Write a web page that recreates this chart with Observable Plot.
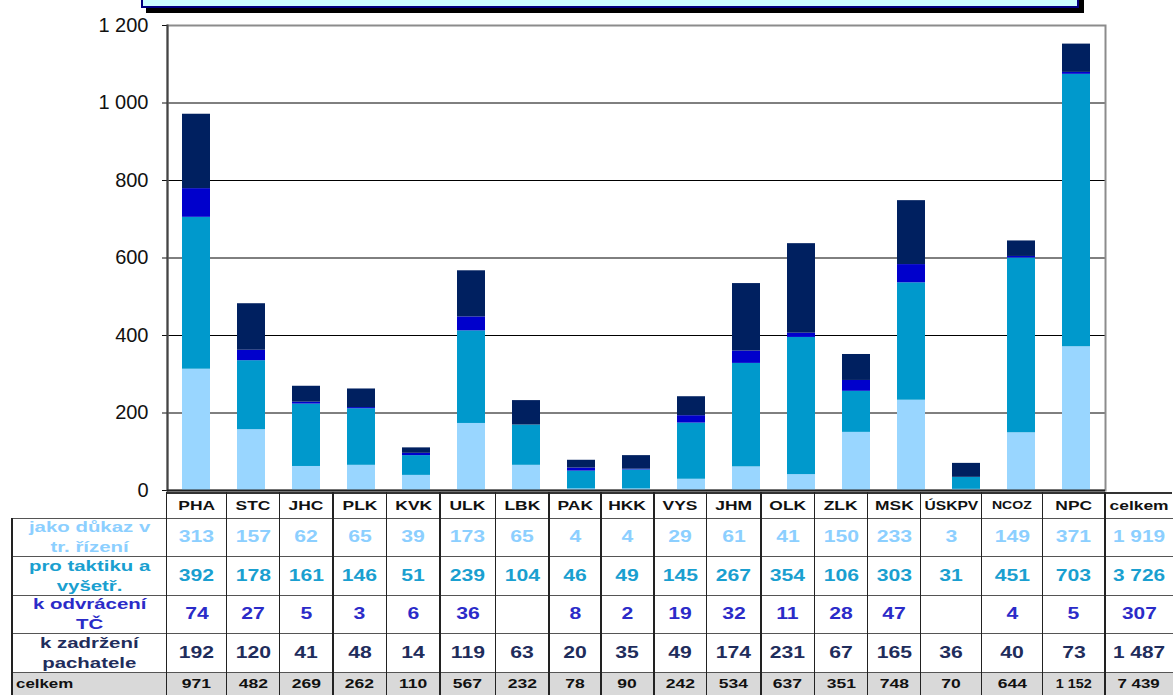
<!DOCTYPE html>
<html><head><meta charset="utf-8">
<script src="https://cdn.jsdelivr.net/npm/d3@7"></script>
<script src="https://cdn.jsdelivr.net/npm/@observablehq/plot@0.6"></script>
<style>
body{margin:0;background:#fff;font-family:"Liberation Sans",Arial,sans-serif;}
#wrap{position:relative;width:1173px;height:695px;overflow:hidden;background:#fff;}
#titlebox{position:absolute;left:141px;top:-40px;width:934px;height:44px;background:#CCFFFF;border:2px solid #000080;box-shadow:5px 5px 0 #000;}
#chart{position:absolute;left:0;top:0;}
.cell{position:absolute;box-sizing:border-box;display:flex;align-items:center;justify-content:center;font-weight:bold;white-space:nowrap;text-align:center;}
.sx{display:inline-block;}
.ln{position:absolute;}
</style></head>
<body>
<div id="wrap"><div id="titlebox"></div><div id="chart"></div></div>
<script>
// ---- data ----
const categories = ["PHA","STC","JHC","PLK","KVK","ULK","LBK","PAK","HKK","VYS","JHM","OLK","ZLK","MSK","ÚSKPV","NCOZ","NPC"];
const seriesNames = ["jako důkaz v tr. řízení","pro taktiku a vyšetř.","k odvrácení TČ","k zadržení pachatele"];
const seriesLabelLines = [["jako důkaz v","tr. řízení"],["pro taktiku a","vyšetř."],["k odvrácení","TČ"],["k zadržení","pachatele"]];
const dukaz     = [313,157,62,65,39,173,65,4,4,29,61,41,150,233,3,149,371];
const taktika   = [392,178,161,146,51,239,104,46,49,145,267,354,106,303,31,451,703];
const odvraceni = [74,27,5,3,6,36,null,8,2,19,32,11,28,47,null,4,5];
const zadrzeni  = [192,120,41,48,14,119,63,20,35,49,174,231,67,165,36,40,73];
const celkem    = [971,482,269,262,110,567,232,78,90,242,534,637,351,748,70,644,1152];
const totalLabel = "celkem";
const seriesTotals = [1919,3726,307,1487];
const grandTotal = 7439;
const yTicks = [0,200,400,600,800,1000,1200];

// ---- styles ----
const barColors  = ["#99D6FF","#0099CC","#0000CC","#002060"];
const textColors = ["#8CCFFF","#1A9FD0","#2B2BC8","#1F2D5C"];
const colEdges = [166.7,226.7,279.4,333,386.5,440.1,495.6,549.2,600.8,653.8,706.7,760.8,814.5,867.4,920.7,981.7,1042.7,1105,1173];
const rowEdges = [492,518,556,595,633,672,695];
const labelLeft = 11.7;

const seriesValues = [dukaz,taktika,odvraceni,zadrzeni];
const long = [];
seriesValues.forEach((arr,s)=>arr.forEach((v,i)=>{ if(v!=null) long.push({cat:categories[i],series:seriesNames[s],value:v}); }));

const fmt = v => d3.format(",")(v).replace(/,/g," ");

const chart = Plot.plot({
  width:1173, height:500, marginLeft:167, marginRight:68, marginTop:25, marginBottom:10,
  style:{fontFamily:"'Liberation Sans', Arial, sans-serif", fontSize:"20px", background:"transparent", overflow:"visible"},
  x:{domain:categories, paddingInner:0.5, paddingOuter:0.25, axis:null},
  y:{domain:[0,1200], axis:null},
  color:{domain:seriesNames, range:barColors},
  marks:[
    Plot.ruleY(yTicks.filter(t=>t>0 && t<1200), {stroke:"#000", strokeWidth:1}),
    Plot.frame({stroke:"#8c8c8c", strokeWidth:2}),
    Plot.barY(long, {x:"cat", y:"value", fill:"series"}),
    Plot.axisY({ticks:yTicks, tickFormat:fmt, tickSize:5, tickPadding:14, color:"#111", fontSize:20, label:null}),
    Plot.frame({anchor:"left", stroke:"#444", strokeWidth:2}),
    Plot.ruleY([0], {stroke:"#222", strokeWidth:2})
  ]
});
document.getElementById("chart").appendChild(chart);

// ---- table ----
const wrap = document.getElementById("wrap");
function cell(x0,x1,y0,y1,html,style){
  const d=document.createElement("div"); d.className="cell";
  d.style.left=x0+"px"; d.style.width=(x1-x0)+"px"; d.style.top=y0+"px"; d.style.height=(y1-y0)+"px";
  Object.assign(d.style,style||{}); d.innerHTML=html; wrap.appendChild(d); return d;
}
function sx(text,scale,extra){ return `<span class="sx" style="transform:scaleX(${scale});${extra||""}">${text}</span>`; }
function line(x0,y0,w,h,c){ const d=document.createElement("div"); d.className="ln"; Object.assign(d.style,{left:x0+"px",top:y0+"px",width:w+"px",height:h+"px",background:c}); wrap.appendChild(d); }

// total row background
cell(labelLeft,1173,rowEdges[5],rowEdges[6],"",{background:"#D9D9D9"});

// header row
categories.concat([totalLabel]).forEach((c,i)=>{
  const small = c==="NCOZ";
  cell(colEdges[i],colEdges[i+1],rowEdges[0],rowEdges[1], sx(c, c==="ÚSKPV"?1.2:1.34), {fontSize:(small?"10.5px":"13px"), color:"#111"});
});
// series rows
seriesValues.forEach((arr,s)=>{
  const y0=rowEdges[s+1], y1=rowEdges[s+2];
  cell(labelLeft,colEdges[0],y0,y1, sx(seriesLabelLines[s].join("<br>"),1.36,"line-height:20px;"), {fontSize:"15px", color:textColors[s]});
  arr.forEach((v,i)=>{ if(v!=null) cell(colEdges[i],colEdges[i+1],y0,y1, sx(fmt(v),1.32), {fontSize:"16px", color:textColors[s]}); });
  cell(colEdges[17],colEdges[18],y0,y1, sx(fmt(seriesTotals[s]),1.3), {fontSize:"16px", color:textColors[s]});
});
// total row
cell(labelLeft+4,colEdges[0],rowEdges[5],rowEdges[6], sx(totalLabel,1.35,"transform-origin:left center;"), {fontSize:"12.5px", color:"#111", justifyContent:"flex-start"});
celkem.forEach((v,i)=>cell(colEdges[i],colEdges[i+1],rowEdges[5],rowEdges[6], sx(fmt(v), v>=1000?1.15:1.4), {fontSize:"12.5px", color:"#111"}));
cell(colEdges[17],colEdges[18],rowEdges[5],rowEdges[6], sx(fmt(grandTotal),1.35), {fontSize:"12.5px", color:"#111"});

// grid lines
line(colEdges[0]-1, rowEdges[0], 1173-colEdges[0], 1.5, "#333");
for(let r=1;r<=5;r++) line(labelLeft, rowEdges[r]-0.5, 1173-labelLeft, 1.5, "#555");
line(labelLeft-0.5, rowEdges[1], 1.5, rowEdges[6]-rowEdges[1], "#222");
for(let c=0;c<colEdges.length-1;c++) line(colEdges[c]-0.75, rowEdges[0], 1.5, rowEdges[6]-rowEdges[0], "#222");
</script>
</body></html>
